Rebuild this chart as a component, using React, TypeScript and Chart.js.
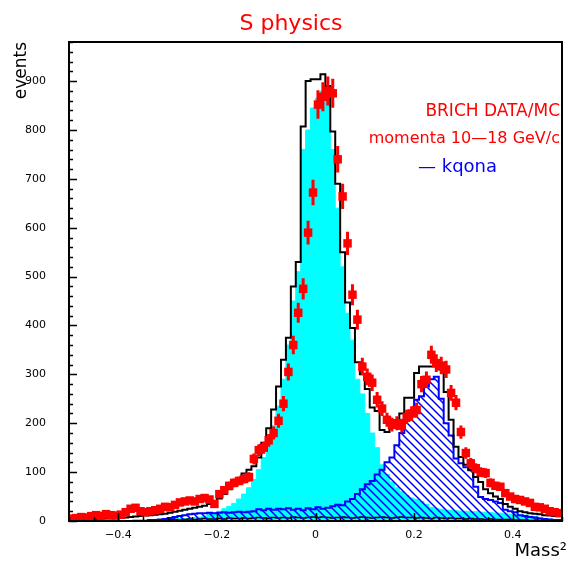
import React, { useEffect, useRef } from 'react';
import { Chart, registerables } from 'chart.js';

Chart.register(...registerables);

const X_MIN = -0.5;
const X_MAX = 0.5;
const BIN_WIDTH = 0.01;
const Y_MAX = 980;

const xTickValues = [-0.4, -0.2, 0, 0.2, 0.4];
const xTickLabels = ['\u22120.4', '\u22120.2', '0', '0.2', '0.4'];
const yTickValues = [0, 100, 200, 300, 400, 500, 600, 700, 800, 900];

// pions (cyan filled), bins from -0.5 to 0.5, width 0.01
const pion = [
  0, 0, 0, 0, 0, 0, 0, 0, 0, 0,
  0, 0, 0, 0, 1, 1, 1, 1, 2, 2,
  3, 3, 4, 5, 5, 6, 7, 8, 10, 14,
  17, 20, 25, 30, 36, 45, 55, 68, 85, 105,
  130, 160, 195, 235, 290, 360, 450, 510, 760, 800,
  845, 865, 880, 870, 760, 640, 520, 425, 370, 290,
  260, 220, 180, 150, 115, 95, 80, 68, 60, 52,
  47, 44, 40, 34, 28, 25, 24, 22, 22, 21,
  20, 20, 19, 19, 18, 18, 17, 16, 16, 15,
  14, 13, 12, 12, 10, 9, 7, 5, 4, 3,
];

// kaons (blue hatched)
const kaon = [
  0, 0, 0, 0, 0, 0, 0, 0, 0, 0,
  0, 0, 0, 0, 0, 0, 0, 2, 2, 3,
  4, 6, 8, 10, 12, 14, 15, 16, 16, 17,
  16, 17, 18, 17, 18, 19, 18, 19, 20, 24,
  22, 25, 23, 25, 24, 26, 23, 25, 22, 26,
  24, 28, 25, 27, 30, 33, 32, 40, 45, 55,
  65, 75, 82, 95, 105, 120, 130, 155, 180, 205,
  225, 248, 255, 275, 290, 295, 250, 200, 175, 128,
  118, 110, 104, 70, 49, 45, 43, 40, 37, 23,
  20, 18, 12, 10, 8, 7, 5, 4, 3, 2,
];

// other particles (thin black at bottom)
const other = [
  0, 0, 0, 0, 0, 0, 0, 0, 0, 0,
  0, 0, 0, 0, 1, 1, 1, 2, 2, 2,
  2, 3, 3, 2, 3, 4, 3, 4, 5, 4,
  4, 5, 4, 6, 5, 5, 6, 5, 6, 7,
  6, 5, 7, 6, 7, 6, 8, 7, 6, 7,
  8, 7, 8, 7, 6, 7, 8, 7, 6, 7,
  8, 7, 6, 7, 8, 7, 6, 7, 8, 7,
  7, 6, 7, 6, 5, 7, 6, 5, 6, 5,
  5, 4, 5, 4, 4, 3, 4, 3, 3, 3,
  3, 2, 2, 2, 1, 1, 1, 0, 0, 0,
];

// total MC (black outline)
const mcTotal = [
  2, 2, 2, 3, 3, 3, 4, 4, 5, 5,
  6, 6, 7, 8, 9, 10, 11, 12, 13, 14,
  15, 17, 19, 21, 23, 25, 27, 29, 31, 35,
  40, 46, 55, 65, 75, 85, 97, 105, 112, 130,
  160, 190, 228, 275, 330, 375, 480, 530, 807, 900,
  904, 904, 914, 890, 797, 690, 550, 447, 395, 325,
  300, 270, 232, 225, 186, 182, 192, 205, 220, 252,
  252, 303, 316, 316, 316, 325, 310, 264, 207, 152,
  131, 115, 105, 90, 80, 65, 57, 50, 45, 35,
  29, 25, 20, 18, 16, 15, 14, 12, 11, 10,
];

// data points (red with error bars)
const dataCounts = [
  5, 6, 8, 7, 10, 12, 10, 14, 12, 11,
  13, 18, 25, 27, 20, 18, 20, 22, 25, 29,
  28, 33, 38, 40, 42, 40, 45, 47, 44, 35,
  55, 63, 72, 78, 82, 86, 90, 127, 145, 150,
  165, 180, 205, 240, 305, 360, 426, 475, 590, 672,
  852, 868, 880, 875, 740, 664, 568, 463, 412, 316,
  295, 283, 248, 230, 207, 197, 200, 195, 213, 220,
  227, 280, 289, 340, 323, 318, 310, 262, 242, 182,
  139, 118, 108, 100, 98, 78, 72, 70, 57, 50,
  45, 43, 40, 37, 29, 28, 25, 20, 18, 16,
];

const NBINS = pion.length;
const edges = Array.from({ length: NBINS + 1 }, (_, i) => X_MIN + i * BIN_WIDTH);
const centers = Array.from({ length: NBINS }, (_, i) => X_MIN + (i + 0.5) * BIN_WIDTH);

function histPoints(vals: number[]) {
  return edges.map((e, i) => ({ x: e, y: vals[Math.min(i, vals.length - 1)] }));
}

function makeHatch(): CanvasPattern | string {
  const c = document.createElement('canvas');
  const s = 8;
  c.width = s;
  c.height = s;
  const g = c.getContext('2d');
  if (!g) return 'rgba(0,0,255,0.3)';
  g.strokeStyle = '#0000ff';
  g.lineWidth = 1.5;
  g.beginPath();
  g.moveTo(-1, -1);
  g.lineTo(s + 1, s + 1);
  g.moveTo(-1, s - 1);
  g.lineTo(1, s + 1);
  g.moveTo(s - 1, -1);
  g.lineTo(s + 1, 1);
  g.stroke();
  const p = g.createPattern(c, 'repeat');
  return p || 'rgba(0,0,255,0.3)';
}

const FONT = '"DejaVu Sans", "Liberation Sans", sans-serif';

export default function App() {
  const ref = useRef<HTMLCanvasElement | null>(null);

  useEffect(() => {
    document.body.style.margin = '0';
    const canvas = ref.current;
    if (!canvas) return;

    const TOTAL_ORDER = 2;

    const annot = {
      id: 'annot',
      afterDatasetDraw(chart: any, args: any) {
        const ds = chart.data.datasets[args.index];
        if (!ds || ds.order !== TOTAL_ORDER) return;
        const ctx = chart.ctx;
        const xs = chart.scales.x;
        const ys = chart.scales.y;
        const area = chart.chartArea;
        ctx.save();
        ctx.beginPath();
        ctx.rect(area.left, area.top, area.right - area.left, area.bottom - area.top);
        ctx.clip();
        ctx.strokeStyle = '#ff0000';
        ctx.lineWidth = 3;
        for (let i = 0; i < NBINS; i++) {
          const v = dataCounts[i];
          const err = Math.sqrt(v);
          const px = xs.getPixelForValue(centers[i]);
          ctx.beginPath();
          ctx.moveTo(px, ys.getPixelForValue(v - err));
          ctx.lineTo(px, ys.getPixelForValue(v + err));
          const py = ys.getPixelForValue(v);
          ctx.moveTo(xs.getPixelForValue(centers[i] - BIN_WIDTH / 2), py);
          ctx.lineTo(xs.getPixelForValue(centers[i] + BIN_WIDTH / 2), py);
          ctx.stroke();
        }
        ctx.restore();
      },
      afterDraw(chart: any) {
        const ctx = chart.ctx;
        const xs = chart.scales.x;
        const ys = chart.scales.y;
        const a = chart.chartArea;
        ctx.save();
        // ticks
        ctx.strokeStyle = '#000';
        ctx.lineWidth = 1.5;
        ctx.beginPath();
        for (let v = 0; v <= Y_MAX; v += 20) {
          const py = Math.round(ys.getPixelForValue(v)) + 0.5;
          const len = v % 100 === 0 ? 8 : 4;
          ctx.moveTo(a.left, py);
          ctx.lineTo(a.left + len, py);
        }
        for (let k = -10; k <= 10; k++) {
          const v = k * 0.05;
          const px = Math.round(xs.getPixelForValue(v)) + 0.5;
          const len = k % 4 === 0 && k !== -10 && k !== 10 ? 8 : 4;
          ctx.moveTo(px, a.bottom);
          ctx.lineTo(px, a.bottom - len);
        }
        ctx.stroke();
        // frame
        ctx.lineWidth = 2;
        ctx.strokeRect(a.left, a.top, a.right - a.left, a.bottom - a.top);

        // title
        ctx.fillStyle = '#ff0000';
        ctx.font = '22px ' + FONT;
        ctx.textAlign = 'center';
        ctx.textBaseline = 'alphabetic';
        ctx.fillText('S physics', 291, 30);

        // legend texts
        ctx.textAlign = 'right';
        ctx.font = '17px ' + FONT;
        ctx.fillText('BRICH DATA/MC', 560, 116);
        ctx.font = '16px ' + FONT;
        ctx.fillText('momenta 10\u201418 GeV/c', 560, 143);
        ctx.fillStyle = '#0000ff';
        ctx.textAlign = 'left';
        ctx.font = '18px ' + FONT;
        ctx.fillText('\u2014 kqona', 418, 172);

        // axis titles
        ctx.fillStyle = '#000';
        ctx.font = '18px ' + FONT;
        ctx.textAlign = 'right';
        ctx.fillText('Mass\u00b2', 567, 556);
        ctx.font = '17px ' + FONT;
        ctx.save();
        ctx.translate(26, 42);
        ctx.rotate(-Math.PI / 2);
        ctx.textAlign = 'right';
        ctx.fillText('events', 0, 0);
        ctx.restore();
        ctx.restore();
      },
    };

    const chart = new Chart(canvas, {
      type: 'line',
      data: {
        datasets: [
          {
            label: 'data',
            data: centers.map((x, i) => ({ x, y: dataCounts[i] })),
            showLine: false,
            pointStyle: 'rect',
            pointRadius: 6,
            pointBorderWidth: 0,
            backgroundColor: '#ff0000',
            borderColor: '#ff0000',
            order: 1,
          } as any,
          {
            label: 'MC total',
            data: histPoints(mcTotal),
            stepped: 'after',
            fill: false,
            borderColor: '#000000',
            borderWidth: 2,
            pointRadius: 0,
            order: TOTAL_ORDER,
          } as any,
          {
            label: 'kaons',
            data: histPoints(kaon),
            stepped: 'after',
            fill: 'origin',
            backgroundColor: makeHatch(),
            borderColor: '#0000ff',
            borderWidth: 2,
            pointRadius: 0,
            order: 3,
          } as any,
          {
            label: 'other',
            data: histPoints(other),
            stepped: 'after',
            fill: false,
            borderColor: '#000000',
            borderWidth: 1.5,
            pointRadius: 0,
            order: 4,
          } as any,
          {
            label: 'pions',
            data: histPoints(pion),
            stepped: 'after',
            fill: 'origin',
            backgroundColor: '#00ffff',
            borderColor: '#00ffff',
            borderWidth: 1,
            pointRadius: 0,
            order: 5,
          } as any,
        ],
      },
      options: {
        responsive: false,
        animation: false,
        events: [],
        layout: { padding: { left: 0, right: 5, top: 42, bottom: 0 } },
        plugins: {
          legend: { display: false },
          tooltip: { enabled: false },
          title: { display: false },
        },
        scales: {
          x: {
            type: 'linear',
            min: X_MIN,
            max: X_MAX,
            grid: { display: false },
            border: { display: false },
            afterFit: (s: any) => { s.height = 40; },
            afterBuildTicks: (s: any) => { s.ticks = xTickValues.map((v) => ({ value: v })); },
            ticks: {
              autoSkip: false,
              maxRotation: 0,
              padding: 0,
              color: '#000',
              font: { family: FONT, size: 11 },
              callback: (v: any) => {
                const idx = xTickValues.findIndex((t) => Math.abs(t - Number(v)) < 1e-9);
                return idx >= 0 ? xTickLabels[idx] : '';
              },
            },
          },
          y: {
            type: 'linear',
            min: 0,
            max: Y_MAX,
            grid: { display: false },
            border: { display: false },
            afterFit: (s: any) => { s.width = 69; },
            afterBuildTicks: (s: any) => { s.ticks = yTickValues.map((v) => ({ value: v })); },
            ticks: {
              autoSkip: false,
              padding: 15,
              color: '#000',
              font: { family: FONT, size: 11 },
              callback: (v: any) => String(v),
            },
          },
        },
      },
      plugins: [annot],
    });

    return () => {
      chart.destroy();
    };
  }, []);

  return (
    <div style={{ width: 568, height: 561, background: '#fff' }}>
      <canvas ref={ref} width={568} height={561} style={{ display: 'block' }} />
    </div>
  );
}
